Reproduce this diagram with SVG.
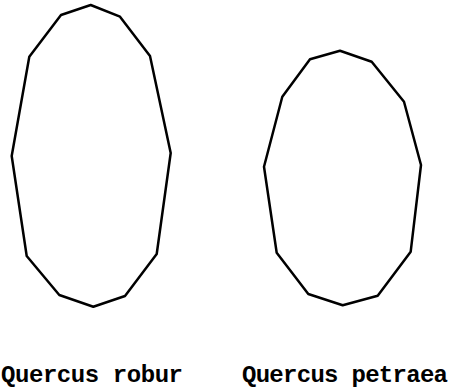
<svg xmlns="http://www.w3.org/2000/svg" width="450" height="388" viewBox="0 0 450 388">
<style>
.leaf{fill:none;stroke:#000;stroke-width:2.5;stroke-linejoin:round}
.lbl{font-family:"Liberation Mono","DejaVu Sans Mono",monospace;font-weight:bold;font-size:24px;fill:#000}
</style>
<rect width="450" height="388" fill="#fff"/>
<g id="robur">
<polygon class="leaf" points="90.7,5 120,16.7 150,56 170.7,153 156.7,254 125,296 93.3,306.7 59.3,295 26.7,256 11.7,156 29.3,56.7 61,15"/>
<text class="lbl" x="1" y="382" textLength="182" lengthAdjust="spacing">Quercus robur</text>
</g>
<g id="petraea">
<polygon class="leaf" points="340,50.7 371.7,61.7 404,101.7 421,165 410.7,251.7 377.7,295.7 342.7,305.3 308.3,294 276.7,252.7 264,166.7 282.3,96.7 310,59.3"/>
<text class="lbl" x="242" y="382" textLength="206" lengthAdjust="spacing">Quercus petraea</text>
</g>
<g id="connectors"></g>
</svg>
